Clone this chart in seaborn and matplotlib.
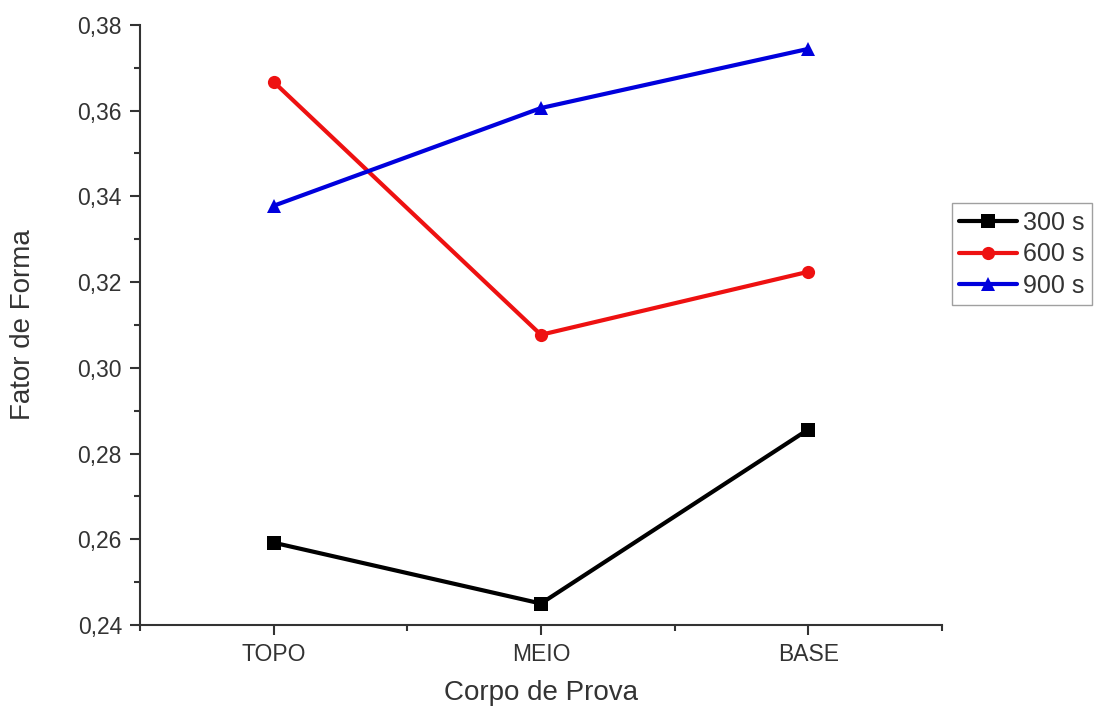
import matplotlib
matplotlib.use("Agg")
import matplotlib.pyplot as plt
import matplotlib.ticker as mticker
import seaborn as sns
import pandas as pd

# Amostras (posição no corpo de prova) e fator de forma por tempo de tratamento
posicoes = ["TOPO", "MEIO", "BASE"]
fator_300 = [0.2592, 0.2450, 0.2856]
fator_600 = [0.3667, 0.3077, 0.3224]
fator_900 = [0.3378, 0.3606, 0.3744]
tempos = ["300 s", "600 s", "900 s"]

df = pd.DataFrame({
    "pos": list(range(len(posicoes))) * 3,
    "fator": fator_300 + fator_600 + fator_900,
    "tempo": [tempos[0]] * 3 + [tempos[1]] * 3 + [tempos[2]] * 3,
})

sns.set_style("ticks")
plt.rcParams["font.family"] = ["Liberation Sans", "DejaVu Sans"]

fig = plt.figure(figsize=(10.99, 7.11), dpi=100)
ax = fig.add_axes([0.1274, 0.121, 0.7296, 0.844])

sns.lineplot(
    data=df, x="pos", y="fator", hue="tempo", style="tempo",
    palette={"300 s": "#000000", "600 s": "#ee1111", "900 s": "#0000dd"},
    markers={"300 s": "s", "600 s": "o", "900 s": "^"},
    dashes=False, linewidth=3.0, markersize=9.5, markeredgewidth=0,
    ax=ax,
)

ax.set_xlim(-0.5, 2.5)
ax.set_ylim(0.24, 0.38)
ax.set_xticks(range(len(posicoes)))
ax.set_xticklabels(posicoes)
ax.xaxis.set_minor_locator(mticker.FixedLocator([-0.5, 0.5, 1.5, 2.5]))
ax.yaxis.set_major_locator(mticker.MultipleLocator(0.02))
ax.yaxis.set_minor_locator(mticker.MultipleLocator(0.01))
ax.yaxis.set_major_formatter(mticker.FuncFormatter(lambda v, p: f"{v:.2f}".replace(".", ",")))

for side in ("top", "right"):
    ax.spines[side].set_visible(False)
for side in ("left", "bottom"):
    ax.spines[side].set_linewidth(1.5)
    ax.spines[side].set_color("#333333")

ax.tick_params(which="major", length=7, width=1.5, color="#333333", labelsize=16.5,
               labelcolor="#333333", pad=6)
ax.tick_params(which="minor", length=4, width=1.5, color="#333333")

ax.set_xlabel("Corpo de Prova", fontsize=20, color="#333333", labelpad=10)
ax.set_ylabel("Fator de Forma", fontsize=20, color="#333333", labelpad=30)

leg = ax.legend(loc="center left", bbox_to_anchor=(1.0125, 0.6175), fontsize=18,
                frameon=True, fancybox=False, edgecolor="#888888",
                handlelength=2.3, handletextpad=0.25, borderpad=0.3,
                labelspacing=0.3, borderaxespad=0)
leg.get_frame().set_linewidth(1.0)
for t in leg.get_texts():
    t.set_color("#333333")

fig.savefig("out.png", dpi=100)
